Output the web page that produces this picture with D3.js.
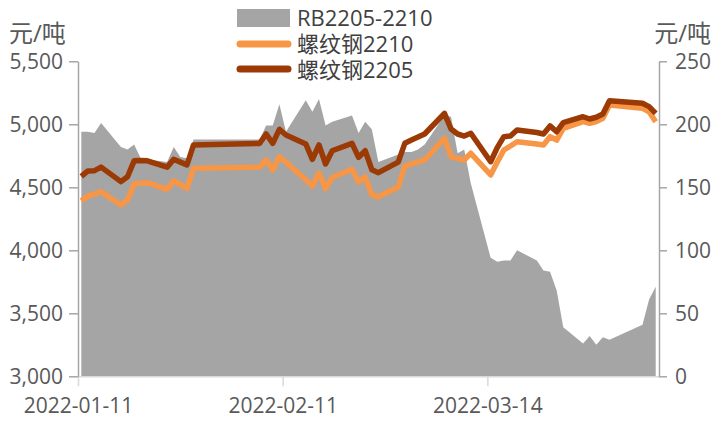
<!DOCTYPE html>
<html>
<head>
<meta charset="utf-8">
<script src="https://cdn.jsdelivr.net/npm/d3@7"></script>
<style>
  body { margin: 0; background: #fff; }
  svg text { font-family: "Open Sans", "Noto Sans CJK SC", sans-serif; }
</style>
</head>
<body>
<div id="chart"></div>
<script>
const width = 713;
const height = 424;

// trading days
const dates = ["2022-01-11","2022-01-12","2022-01-13","2022-01-14","2022-01-17","2022-01-18","2022-01-19","2022-01-20","2022-01-21","2022-01-24","2022-01-25","2022-01-26","2022-01-27","2022-01-28",
  "2022-02-07","2022-02-08","2022-02-09","2022-02-10","2022-02-11","2022-02-14","2022-02-15","2022-02-16","2022-02-17","2022-02-18","2022-02-21","2022-02-22","2022-02-23","2022-02-24","2022-02-25","2022-02-28",
  "2022-03-01","2022-03-02","2022-03-03","2022-03-04","2022-03-07","2022-03-08","2022-03-09","2022-03-10","2022-03-11","2022-03-14","2022-03-15","2022-03-16","2022-03-17","2022-03-18","2022-03-21","2022-03-22","2022-03-23","2022-03-24","2022-03-25","2022-03-28","2022-03-29","2022-03-30","2022-03-31",
  "2022-04-01","2022-04-06","2022-04-07","2022-04-08"];

// 螺纹钢2205
const rb2205 = [4586,4630,4632,4660,4545,4584,4710,4712,4710,4660,4722,4700,4677,4836,
  4848,4923,4849,4960,4915,4844,4722,4836,4685,4790,4849,4738,4790,4640,4616,4700,
  4849,4875,4899,4923,5087,4963,4923,4907,4929,4703,4815,4902,4907,4955,4935,4923,4987,4941,5013,5060,5042,5056,5082,
  5187,5167,5140,5087];

// 螺纹钢2210
const rb2210 = [4394,4431,4446,4465,4360,4399,4526,4532,4537,4484,4552,4522,4492,4651,
  4659,4717,4637,4743,4700,4560,4510,4613,4490,4578,4643,4542,4582,4440,4425,4502,
  4669,4685,4701,4717,4889,4743,4729,4717,4770,4598,4700,4796,4828,4862,4844,4836,4902,4875,4968,5021,5008,5021,5048,
  5153,5127,5100,5021];

// RB2205-2210
const spread = [194,194,193,201,182,180,184,173,172,170,182,174,173,188,
  188,199,199,216,194,219,210,220,199,202,207,193,202,196,170,176,
  178,178,180,184,207,206,177,180,153,94,91,92,92,100,92,84,83,68,39,26,32,25,31,
  29,41,61,71];

const leftTicks = [3000,3500,4000,4500,5000,5500];
const rightTicks = [0,50,100,150,200,250];
const xTicks = ["2022-01-11","2022-02-11","2022-03-14"];

const parse = d3.timeParse("%Y-%m-%d");
const rows = dates.map((d, i) => ({
  date: parse(d),
  a: rb2205[i],
  b: rb2210[i],
  s: spread[i]
}));

const svg = d3.select("#chart").append("svg")
  .attr("width", width)
  .attr("height", height);

const x = d3.scaleTime()
  .domain([parse("2022-01-11"), parse("2022-04-09")])
  .range([78, 659]);
const yL = d3.scaleLinear().domain([3000, 5500]).range([376.3, 61.3]);
const yR = d3.scaleLinear().domain([0, 250]).range([376.3, 61.3]);

// points sit in the middle of their day
const px = d => x(d3.timeHour.offset(d.date, 12));

// spread area
svg.append("path")
  .datum(rows)
  .attr("fill", "#a5a5a5")
  .attr("d", d3.area().x(px).y0(yR(0)).y1(d => yR(d.s)));

// x axis
const xAxis = svg.append("g")
  .attr("transform", "translate(0," + yL(3000) + ")")
  .call(d3.axisBottom(x)
    .tickValues(xTicks.map(parse))
    .tickFormat(d3.timeFormat("%Y-%m-%d"))
    .tickSize(10)
    .tickPadding(12)
    .tickSizeOuter(0));
xAxis.select(".domain").attr("stroke", "#d9d9d9").attr("stroke-width", 1.5);
xAxis.selectAll(".tick line").attr("stroke", "#d9d9d9").attr("stroke-width", 1.5);
xAxis.selectAll("text").attr("fill", "#595959").style("font-size", "21px");

// lines
const line = key => d3.line().x(px).y(d => yL(d[key]));
svg.append("path")
  .datum(rows)
  .attr("fill", "none")
  .attr("stroke", "#f79646")
  .attr("stroke-width", 5.5)
  .attr("stroke-linejoin", "round")
  .attr("d", line("b"));
svg.append("path")
  .datum(rows)
  .attr("fill", "none")
  .attr("stroke", "#9c3a06")
  .attr("stroke-width", 5.5)
  .attr("stroke-linejoin", "round")
  .attr("d", line("a"));

// left axis
const left = svg.append("g")
  .attr("transform", "translate(78,0)")
  .call(d3.axisLeft(yL)
    .tickValues(leftTicks)
    .tickFormat(d3.format(","))
    .tickSize(9)
    .tickPadding(6)
    .tickSizeOuter(0));

// right axis
const right = svg.append("g")
  .attr("transform", "translate(659,0)")
  .call(d3.axisRight(yR)
    .tickValues(rightTicks)
    .tickSize(8)
    .tickPadding(8)
    .tickSizeOuter(0));

[left, right].forEach(g => {
  g.select(".domain").attr("stroke", "#a6a6a6").attr("stroke-width", 1.5);
  g.selectAll(".tick line").attr("stroke", "#a6a6a6").attr("stroke-width", 1.5);
  g.selectAll("text").attr("fill", "#595959").style("font-size", "21px");
});

// unit titles
svg.append("text").attr("x", 9).attr("y", 42)
  .attr("fill", "#595959").style("font-size", "24px").text("元/吨");
svg.append("text").attr("x", 711).attr("y", 42).attr("text-anchor", "end")
  .attr("fill", "#595959").style("font-size", "24px").text("元/吨");

// legend
const legend = svg.append("g");
legend.append("rect")
  .attr("x", 237).attr("y", 9).attr("width", 53).attr("height", 18)
  .attr("fill", "#a5a5a5");
legend.append("line")
  .attr("x1", 240).attr("x2", 288).attr("y1", 44).attr("y2", 44)
  .attr("stroke", "#f79646").attr("stroke-width", 7).attr("stroke-linecap", "round");
legend.append("line")
  .attr("x1", 240).attr("x2", 288).attr("y1", 69).attr("y2", 69)
  .attr("stroke", "#9c3a06").attr("stroke-width", 7).attr("stroke-linecap", "round");

const legendText = ["RB2205-2210", "螺纹钢2210", "螺纹钢2205"];
legend.selectAll("text.lab").data(legendText).enter().append("text")
  .attr("class", "lab")
  .attr("x", 297)
  .attr("y", (d, i) => 18 + i * 26)
  .attr("dy", "0.36em")
  .attr("fill", "#404040")
  .style("font-size", "22px")
  .text(d => d);
</script>
</body>
</html>
